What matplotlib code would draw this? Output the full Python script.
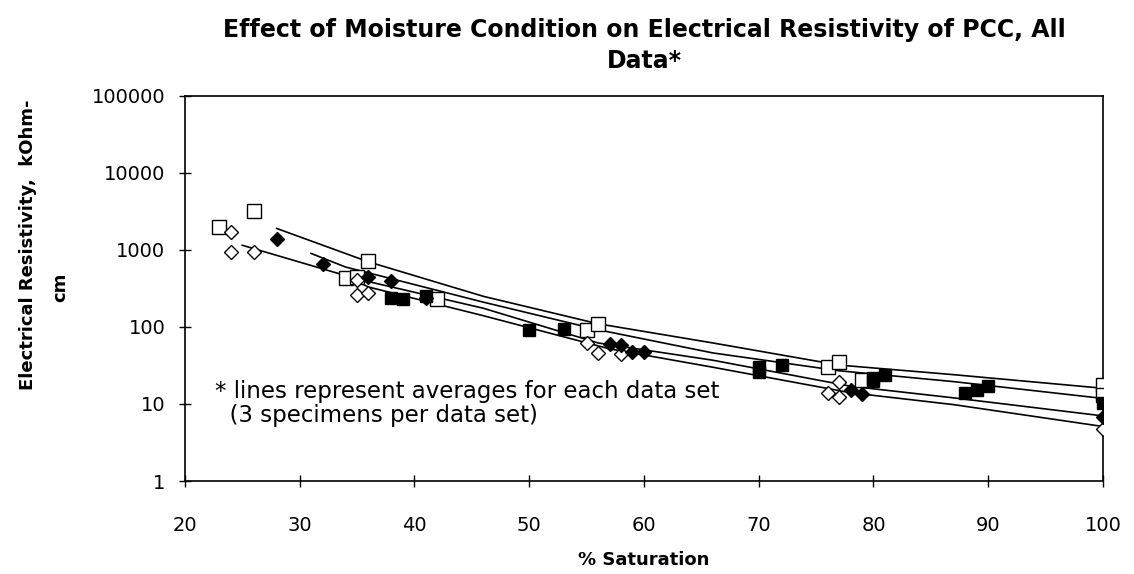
import numpy as np
import matplotlib.pyplot as plt

plt.rcParams['font.family'] = ['DejaVu Sans']

# measured points, % saturation vs resistivity (kOhm-cm)
open_sq_x = [23, 26, 34, 35, 36, 42, 55, 56, 76, 77, 79, 100, 100]
open_sq_y = [2000, 3200, 430, 440, 720, 230, 90, 110, 30, 35, 20.5, 17.7, 13]

fill_sq_x = [38, 39, 41, 50, 53, 70, 70, 72, 80, 80, 81, 88, 89, 90, 100]
fill_sq_y = [240, 230, 250, 90, 95, 30, 26, 32, 20, 22, 24, 14, 15, 17, 10.4]

open_di_x = [24, 24, 26, 35, 35, 36, 55, 56, 58, 76, 77, 77, 100]
open_di_y = [1700, 950, 950, 410, 260, 275, 61, 46, 45, 14, 12.5, 19.5, 4.8]

fill_di_x = [28, 32, 36, 38, 41, 57, 58, 59, 60, 78, 79, 100]
fill_di_y = [1400, 650, 450, 400, 240, 60, 58, 48, 48, 15, 13.5, 6.8]

# average lines for each data set
line1_x = [28, 36, 46, 56, 66, 77, 87, 100]
line1_y = [1900, 700, 250, 110, 62, 32, 24, 16]
line2_x = [31, 34, 46, 56, 66, 77, 87, 100]
line2_y = [900, 600, 210, 92, 46, 27, 19.5, 11.8]
line3_x = [25, 35, 46, 56, 66, 78, 87, 100]
line3_y = [1150, 420, 175, 62, 37, 17, 12, 7]
line4_x = [33.5, 36, 46, 57, 66, 78, 87, 100]
line4_y = [500, 330, 140, 52, 30, 14, 9.8, 5.1]

W, H = 1134, 574
fig = plt.figure(figsize=(W / 100, H / 100), dpi=100)
ax = fig.add_axes([0.163, 0.162, 0.8097, 0.671])

for lx, ly in [(line1_x, line1_y), (line2_x, line2_y),
               (line3_x, line3_y), (line4_x, line4_y)]:
    ax.plot(lx, ly, color='black', lw=1.2, zorder=2)

ax.plot(open_sq_x, open_sq_y, 's', ms=9.5, mfc='white', mec='black', mew=1.0, ls='none', zorder=3)
ax.plot(fill_sq_x, fill_sq_y, 's', ms=9, mfc='black', mec='black', ls='none', zorder=3)
ax.plot(open_di_x, open_di_y, 'D', ms=7.5, mfc='white', mec='black', mew=1.0, ls='none', zorder=3)
ax.plot(fill_di_x, fill_di_y, 'D', ms=7.5, mfc='black', mec='black', ls='none', zorder=3)

ax.set_yscale('log')
ax.set_xlim(20, 100)
ax.set_ylim(1, 100000)
ax.set_xticks([20, 30, 40, 50, 60, 70, 80, 90, 100])
ax.set_yticks([1, 10, 100, 1000, 10000, 100000])
ax.set_yticklabels(['1', '10', '100', '1000', '10000', '100000'])
ax.minorticks_off()
ax.tick_params(axis='both', direction='inout', length=8, width=1, labelsize=14)
ax.tick_params(axis='x', pad=21)
ax.tick_params(axis='y', pad=10)
for s in ax.spines.values():
    s.set_linewidth(1.2)

ax.set_title('Effect of Moisture Condition on Electrical Resistivity of PCC, All\nData*',
             fontsize=17, fontweight='bold', pad=20, linespacing=1.35)
ax.set_xlabel('% Saturation', fontsize=13, fontweight='bold', labelpad=12)

# y label is wrapped in two lines, each placed where it sits in the original
fig.text(28 / W, 1 - 245 / H, 'Electrical Resistivity,  kOhm-', rotation=90,
         fontsize=13, fontweight='bold', ha='center', va='center')
fig.text(60 / W, 1 - 287 / H, 'cm', rotation=90,
         fontsize=13, fontweight='bold', ha='center', va='center')

ax.text(22.6, 20.5, '* lines represent averages for each data set\n  (3 specimens per data set)',
        fontsize=16.5, va='top', ha='left', linespacing=1.05)

fig.savefig('out.png', dpi=100)
